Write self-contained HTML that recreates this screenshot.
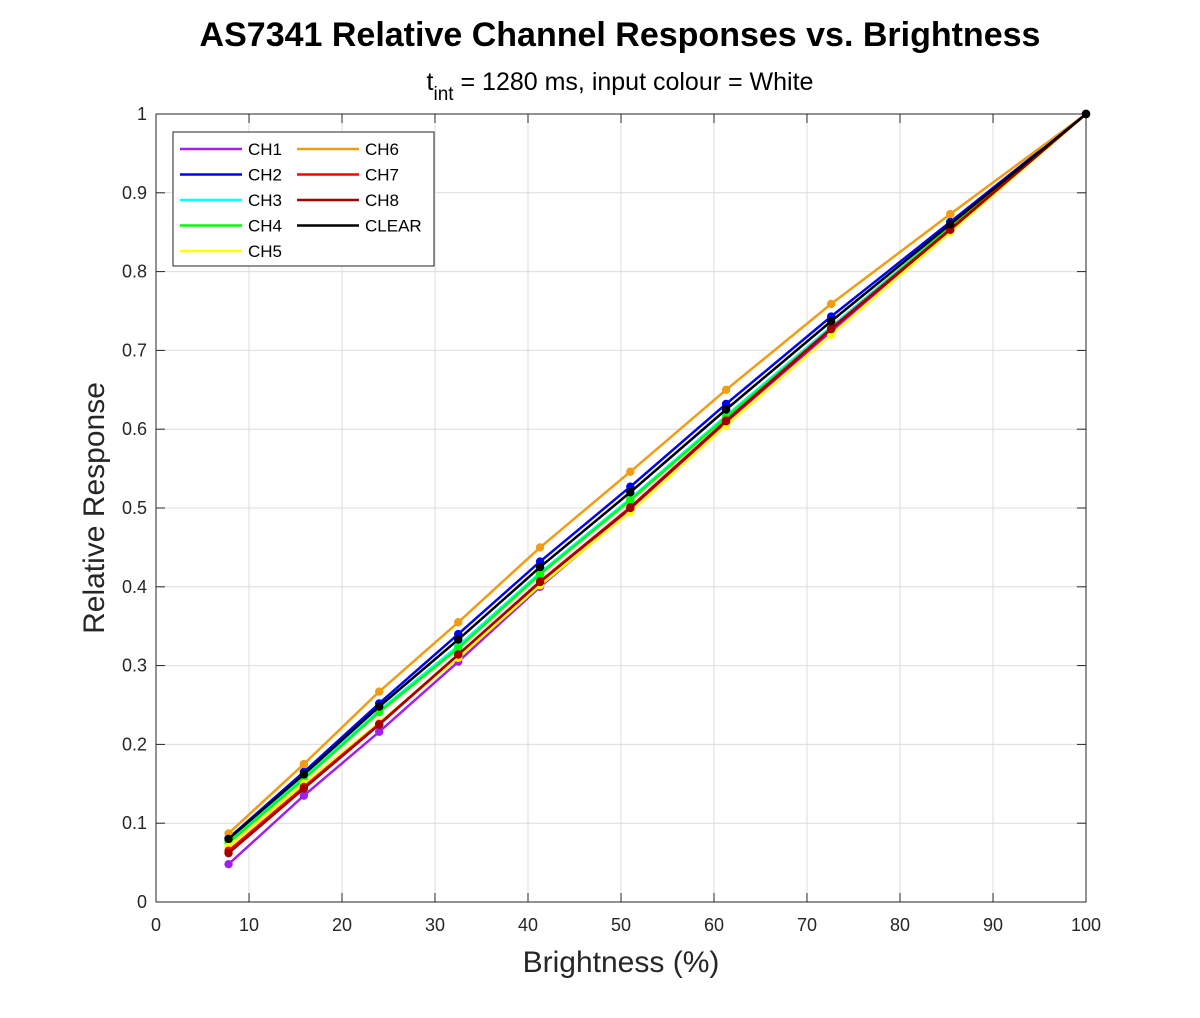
<!DOCTYPE html>
<html><head><meta charset="utf-8"><style>
body{margin:0;background:#fff;}
svg text{font-family:"Liberation Sans",Arial,sans-serif;fill:#262626;}
</style></head><body>
<svg id="chart" width="1200" height="1013" xmlns="http://www.w3.org/2000/svg">
<rect width="1200" height="1013" fill="#fff"/>
<text x="620" y="46" text-anchor="middle" font-size="34" font-weight="bold" style="fill:#000">AS7341 Relative Channel Responses vs. Brightness</text>
<text x="620" y="90" text-anchor="middle" font-size="25" style="fill:#000">t<tspan font-size="19" dy="10">int</tspan><tspan dy="-10"> = 1280 ms, input colour = White</tspan></text>
<g id="grid"></g>
<g id="axes"></g>
<g id="series"></g>
<text x="621" y="972" text-anchor="middle" font-size="30">Brightness (%)</text>
<text transform="translate(104,508) rotate(-90)" text-anchor="middle" font-size="30">Relative Response</text>
<g id="legend"></g>
</svg>
<script>
const xValues=[7.8,15.9,24,32.5,41.3,51,61.3,72.6,85.4,100];
const seriesNames=["CH1","CH2","CH3","CH4","CH5","CH6","CH7","CH8","CLEAR"];
const seriesColors=["#a020f0","#0000ff","#00ffff","#00ff00","#ffff00","#f39c12","#ff0000","#a00000","#000000"];
const ch1=[0.048,0.135,0.216,0.305,0.400,0.497,0.608,0.724,0.852,1];
const ch2=[0.081,0.165,0.252,0.340,0.432,0.527,0.632,0.743,0.863,1];
const ch3=[0.077,0.158,0.243,0.325,0.418,0.512,0.617,0.730,0.857,1];
const ch4=[0.075,0.156,0.241,0.322,0.416,0.510,0.615,0.728,0.856,1];
const ch5=[0.070,0.150,0.228,0.310,0.402,0.495,0.605,0.720,0.850,1];
const ch6=[0.087,0.175,0.267,0.355,0.450,0.546,0.650,0.759,0.873,1];
const ch7=[0.065,0.146,0.226,0.314,0.407,0.501,0.611,0.728,0.854,1];
const ch8=[0.062,0.144,0.225,0.314,0.406,0.500,0.610,0.727,0.853,1];
const clear=[0.080,0.162,0.248,0.333,0.425,0.520,0.625,0.737,0.860,1];
const xTicks=[0,10,20,30,40,50,60,70,80,90,100];
const yTicks=[0,0.1,0.2,0.3,0.4,0.5,0.6,0.7,0.8,0.9,1];
const yTickLabels=["0","0.1","0.2","0.3","0.4","0.5","0.6","0.7","0.8","0.9","1"];
const allSeries=[ch1,ch2,ch3,ch4,ch5,ch6,ch7,ch8,clear];
const L=156,R=1086,T=114,B=902;
const sx=v=>L+(R-L)*v/100, sy=v=>B-(B-T)*v;
const NS="http://www.w3.org/2000/svg";
function mk(p,tag,at){const e=document.createElementNS(NS,tag);for(const k in at)e.setAttribute(k,at[k]);p.appendChild(e);return e;}
const grid=document.getElementById('grid'),axes=document.getElementById('axes'),ser=document.getElementById('series'),leg=document.getElementById('legend');
xTicks.forEach(t=>{
 const g=mk(grid,'line',{x1:sx(t),x2:sx(t),y1:T,y2:B,stroke:'#dcdcdc','stroke-width':1});
 
 
 mk(axes,'line',{x1:sx(t),x2:sx(t),y1:B,y2:B-9,stroke:'#262626'});
 mk(axes,'line',{x1:sx(t),x2:sx(t),y1:T,y2:T+9,stroke:'#262626'});
 const tx=mk(axes,'text',{x:sx(t),y:B+29,'text-anchor':'middle','font-size':18});
 tx.textContent=t;
 
 
});
yTicks.forEach((t,i)=>{
 const g=mk(grid,'line',{x1:L,x2:R,y1:sy(t),y2:sy(t),stroke:'#dcdcdc','stroke-width':1});
 
 
 mk(axes,'line',{x1:L,x2:L+9,y1:sy(t),y2:sy(t),stroke:'#262626'});
 mk(axes,'line',{x1:R,x2:R-9,y1:sy(t),y2:sy(t),stroke:'#262626'});
 const tx=mk(axes,'text',{x:L-9,y:sy(t)+6,'text-anchor':'end','font-size':18});
 tx.textContent=yTickLabels[i];
 
 
});
const frame=mk(axes,'rect',{x:L,y:T,width:R-L,height:B-T,fill:'none',stroke:'#262626','stroke-width':1});


allSeries.forEach((d,si)=>{
 const g=mk(ser,'g',{});
 
 
 const pts=d.map((v,i)=>sx(xValues[i])+','+sy(v)).join(' ');
 mk(g,'polyline',{points:pts,fill:'none',stroke:seriesColors[si],'stroke-width':2.5});
 d.forEach((v,i)=>{
  const c=mk(g,'circle',{cx:sx(xValues[i]),cy:sy(v),r:4.2,fill:seriesColors[si]});
  
  
 });
});
const box=mk(leg,'rect',{x:173,y:132,width:261,height:134,fill:'#fff',stroke:'#262626','stroke-width':1});


seriesNames.forEach((n,i)=>{
 const col=i<5?0:1,row=i<5?i:i-5;
 const x0=col?297:180,y0=149+row*25.5;
 const g=mk(leg,'g',{});
 
 
 mk(g,'line',{x1:x0,x2:x0+62,y1:y0,y2:y0,stroke:seriesColors[i],'stroke-width':2.5});
 const t=mk(g,'text',{x:x0+68,y:y0+6,'font-size':17,style:'fill:#000'});
 t.textContent=n;
});
</script>
</body></html>
